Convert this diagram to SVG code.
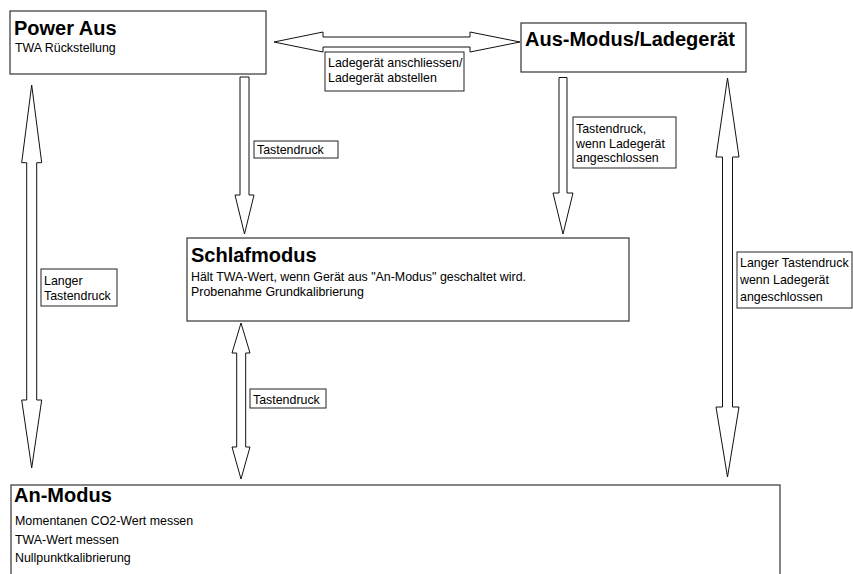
<svg xmlns="http://www.w3.org/2000/svg" width="853" height="574" viewBox="0 0 853 574">
<style>
.box{fill:#fff;stroke:#333;stroke-width:1.2}
.arr{fill:#fff;stroke:#111;stroke-width:1}
.lbl{fill:#fff;stroke:#222;stroke-width:1}
.t{font-family:"Liberation Sans",Arial,sans-serif;font-size:20px;font-weight:bold;fill:#000}
.s{font-family:"Liberation Sans",Arial,sans-serif;font-size:12.4px;fill:#000}
</style>
<rect width="853" height="574" fill="#fff"/>
<g id="connectors">
<polygon class="arr" points="274,42 323,32 323,37 470,37 470,32 520,42 470,52 470,47 323,47 323,52"/>
<polygon class="arr" points="240,77 249,77 249,195 254,195 244.5,234 235,195 240,195"/>
<polygon class="arr" points="559,77.5 567,77.5 567,193 573,193 563,234 553,193 559,193"/>
<polygon class="arr" points="31.7,85 41.7,162.7 36.7,162.7 36.7,400 41.7,400 31.7,468 21.7,400 26.7,400 26.7,162.7 21.7,162.7"/>
<polygon class="arr" points="727.5,78 739,157 732.5,157 732.5,407 739,407 727.5,477 716,407 722.5,407 722.5,157 716,157"/>
<polygon class="arr" points="241,323 250,353 245.7,353 245.7,447 250,447 241,479 232,447 236.7,447 236.7,353 232,353"/>
<g id="label-laden">
<rect class="lbl" x="325" y="52" width="139" height="39"/>
<text class="s" x="328" y="67">Ladegerät anschliessen/</text>
<text class="s" x="328" y="81.7">Ladegerät abstellen</text>
</g>
<g id="label-taste1">
<rect class="lbl" x="254" y="141" width="84" height="17"/>
<text class="s" x="257" y="154">Tastendruck</text>
</g>
<g id="label-taste-lade">
<rect class="lbl" x="573" y="117" width="103" height="51"/>
<text class="s" x="576" y="133">Tastendruck,</text>
<text class="s" x="576" y="147.5">wenn Ladegerät</text>
<text class="s" x="576" y="162">angeschlossen</text>
</g>
<g id="label-lang">
<rect class="lbl" x="41" y="269" width="76" height="37"/>
<text class="s" x="44" y="285">Langer</text>
<text class="s" x="44" y="300">Tastendruck</text>
</g>
<g id="label-lang-lade">
<rect class="lbl" x="737" y="252" width="115" height="56"/>
<text class="s" x="740" y="267">Langer Tastendruck</text>
<text class="s" x="740" y="284">wenn Ladegerät</text>
<text class="s" x="740" y="301">angeschlossen</text>
</g>
<g id="label-taste2">
<rect class="lbl" x="250" y="389" width="76" height="19"/>
<text class="s" x="253" y="403.5">Tastendruck</text>
</g>
</g>
<g id="power-aus">
<rect class="box" x="10" y="11" width="256" height="63"/>
<text class="t" x="14" y="35">Power Aus</text>
<text class="s" x="15" y="51.7">TWA Rückstellung</text>
</g>
<g id="aus-modus">
<rect class="box" x="521" y="23" width="225" height="49"/>
<text class="t" x="525" y="45.7">Aus-Modus/Ladegerät</text>
</g>
<g id="schlafmodus">
<rect class="box" x="187" y="238" width="442" height="83"/>
<text class="t" x="191" y="261.7">Schlafmodus</text>
<text class="s" x="191" y="280.5">Hält TWA-Wert, wenn Gerät aus "An-Modus" geschaltet wird.</text>
<text class="s" x="191" y="295.5">Probenahme Grundkalibrierung</text>
</g>
<g id="an-modus">
<rect class="box" x="11" y="485" width="769" height="100"/>
<text class="t" x="14" y="501.7">An-Modus</text>
<text class="s" x="15" y="524.5">Momentanen CO2-Wert messen</text>
<text class="s" x="15" y="543.5">TWA-Wert messen</text>
<text class="s" x="15" y="562">Nullpunktkalibrierung</text>
</g>
</svg>
